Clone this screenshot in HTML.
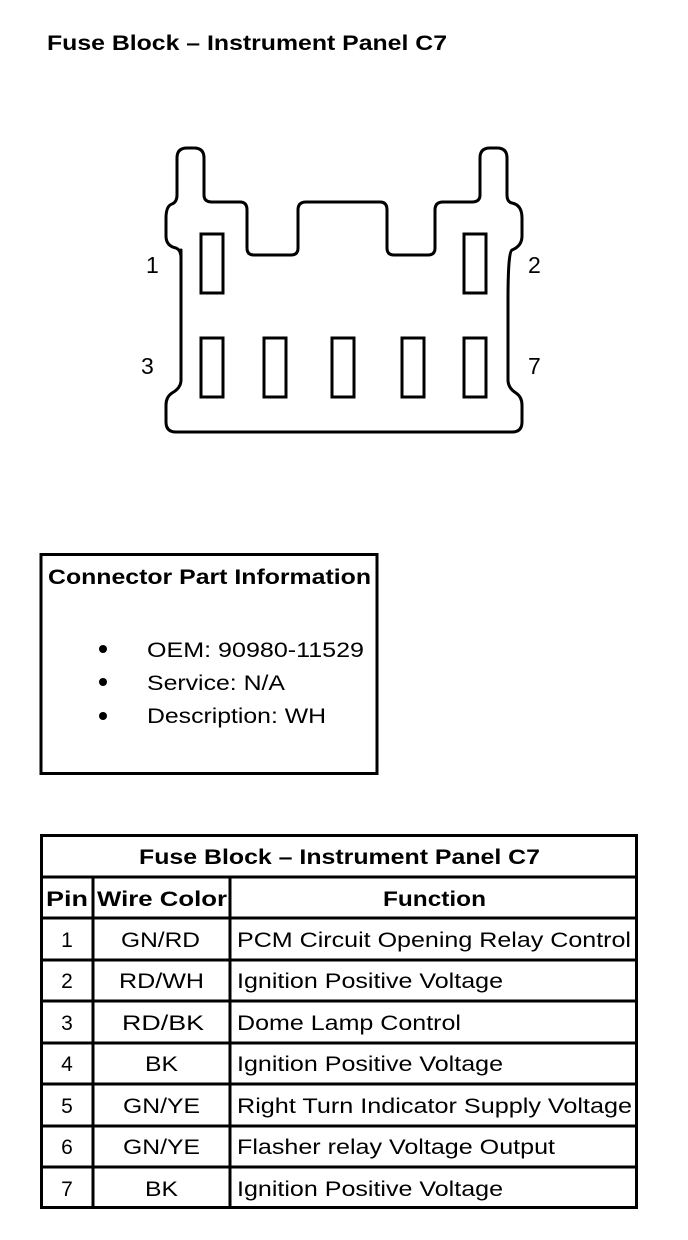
<!DOCTYPE html>
<html><head><meta charset="utf-8"><style>
html,body{margin:0;padding:0;background:#fff;}
svg{display:block;}
text{font-family:"Liberation Sans",Arial,sans-serif;fill:#000;}
.b{font-weight:bold;}
</style></head><body>
<svg width="688" height="1240" viewBox="0 0 688 1240" xmlns="http://www.w3.org/2000/svg">
<text x="47" y="50" class="b" font-size="21" textLength="400" lengthAdjust="spacingAndGlyphs">Fuse Block – Instrument Panel C7</text>
<path d="M181,250 L181,380 Q181,388 172,393 Q166,397 166,405 L166,422 Q166,432 176,432 L512,432 Q522,432 522,422 L522,405 Q522,397 516,393 Q508,388 508,380 L508,300 Q508,252 512,250 Q522,246 522,236 L522,218 Q522,205 512,203 Q507,202 507,195 L507,158 Q507,148 497,148 L490,148 Q480,148 480,158 L480,195 Q480,202 472,202 L443,202 Q435,202 435,210 L435,248 Q435,255 428,255 L394,255 Q387,255 387,248 L387,210 Q387,202 380,202 L306,202 Q298,202 298,210 L298,248 Q298,255 291,255 L254,255 Q247,255 247,248 L247,210 Q247,202 240,202 L212,202 Q204,202 204,195 L204,158 Q204,148 194,148 L187,148 Q177,148 177,158 L177,195 Q177,202 172,204 Q166,206 166,218 L166,236 Q166,246 176,248 Q181,250 181,258 Z" fill="none" stroke="#000" stroke-width="3" stroke-linejoin="round"/>
<g fill="none" stroke="#000" stroke-width="3">
<rect x="201" y="234" width="22" height="59"/>
<rect x="464" y="234" width="22" height="59"/>
<rect x="201" y="338" width="22" height="59"/>
<rect x="264" y="338" width="22" height="59"/>
<rect x="332" y="338" width="22" height="59"/>
<rect x="402" y="338" width="22" height="59"/>
<rect x="464" y="338" width="22" height="59"/>
</g>
<g font-size="23">
<text x="146" y="273">1</text>
<text x="528" y="273">2</text>
<text x="141" y="374">3</text>
<text x="528" y="374">7</text>
</g>
<rect x="41" y="554.5" width="336" height="219" fill="none" stroke="#000" stroke-width="3"/>
<text x="48" y="584" class="b" font-size="21" textLength="323" lengthAdjust="spacingAndGlyphs">Connector Part Information</text>
<g font-size="21">
<circle cx="103" cy="649" r="4"/><text x="147" y="657" textLength="217" lengthAdjust="spacingAndGlyphs">OEM: 90980-11529</text>
<circle cx="103" cy="682" r="4"/><text x="147" y="690" textLength="138" lengthAdjust="spacingAndGlyphs">Service: N/A</text>
<circle cx="103" cy="716" r="4"/><text x="147" y="723" textLength="179" lengthAdjust="spacingAndGlyphs">Description: WH</text>
</g>
<g stroke="#000" stroke-width="3" fill="none">
<rect x="41.5" y="835.5" width="595" height="372"/>
<line x1="41" y1="877" x2="637" y2="877"/>
<line x1="41" y1="918" x2="637" y2="918"/>
<line x1="41" y1="960" x2="637" y2="960"/>
<line x1="41" y1="1001" x2="637" y2="1001"/>
<line x1="41" y1="1043" x2="637" y2="1043"/>
<line x1="41" y1="1084" x2="637" y2="1084"/>
<line x1="41" y1="1126" x2="637" y2="1126"/>
<line x1="41" y1="1167" x2="637" y2="1167"/>
<line x1="93" y1="877" x2="93" y2="1208"/>
<line x1="230" y1="877" x2="230" y2="1208"/>
</g>
<g class="b" font-size="21" lengthAdjust="spacingAndGlyphs">
<text x="139" y="864" textLength="401" lengthAdjust="spacingAndGlyphs">Fuse Block – Instrument Panel C7</text>
<text x="46" y="906" textLength="42" lengthAdjust="spacingAndGlyphs">Pin</text>
<text x="97" y="906" textLength="130" lengthAdjust="spacingAndGlyphs">Wire Color</text>
<text x="383" y="906" textLength="103" lengthAdjust="spacingAndGlyphs">Function</text>
</g>
<g font-size="21">
<g text-anchor="middle">
<text x="67" y="947">1</text>
<text x="67" y="988">2</text>
<text x="67" y="1030">3</text>
<text x="67" y="1071">4</text>
<text x="67" y="1113">5</text>
<text x="67" y="1154">6</text>
<text x="67" y="1196">7</text>
</g>
<text x="121" y="947" textLength="79" lengthAdjust="spacingAndGlyphs">GN/RD</text>
<text x="119" y="988" textLength="85" lengthAdjust="spacingAndGlyphs">RD/WH</text>
<text x="122" y="1030" textLength="82" lengthAdjust="spacingAndGlyphs">RD/BK</text>
<text x="145" y="1071" textLength="33" lengthAdjust="spacingAndGlyphs">BK</text>
<text x="123" y="1113" textLength="77" lengthAdjust="spacingAndGlyphs">GN/YE</text>
<text x="123" y="1154" textLength="77" lengthAdjust="spacingAndGlyphs">GN/YE</text>
<text x="145" y="1196" textLength="33" lengthAdjust="spacingAndGlyphs">BK</text>
<text x="237" y="947" textLength="394" lengthAdjust="spacingAndGlyphs">PCM Circuit Opening Relay Control</text>
<text x="237" y="988" textLength="266" lengthAdjust="spacingAndGlyphs">Ignition Positive Voltage</text>
<text x="237" y="1030" textLength="224" lengthAdjust="spacingAndGlyphs">Dome Lamp Control</text>
<text x="237" y="1071" textLength="266" lengthAdjust="spacingAndGlyphs">Ignition Positive Voltage</text>
<text x="237" y="1113" textLength="395" lengthAdjust="spacingAndGlyphs">Right Turn Indicator Supply Voltage</text>
<text x="237" y="1154" textLength="318" lengthAdjust="spacingAndGlyphs">Flasher relay Voltage Output</text>
<text x="237" y="1196" textLength="266" lengthAdjust="spacingAndGlyphs">Ignition Positive Voltage</text>
</g>
</svg>
</body></html>
